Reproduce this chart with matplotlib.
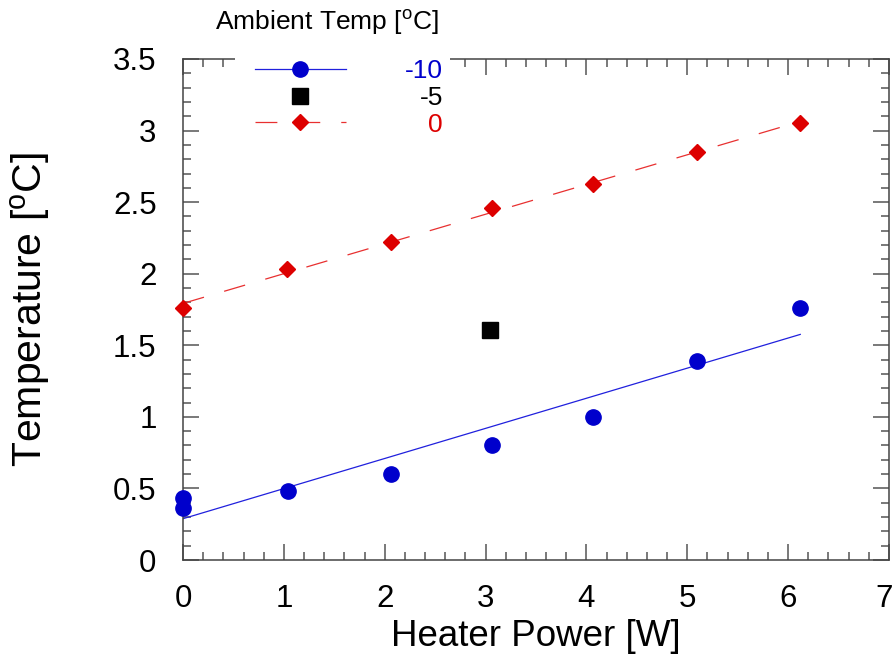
import numpy as np
import matplotlib
matplotlib.use("Agg")
import matplotlib.pyplot as plt
from matplotlib.lines import Line2D
from matplotlib.patches import Rectangle
from matplotlib.ticker import MultipleLocator, FuncFormatter
from matplotlib.transforms import ScaledTranslation

plt.rcParams['font.family'] = ['Liberation Sans', 'DejaVu Sans']

# ---- data ----
x_m10 = [0.0, 0.0, 1.04, 2.06, 3.06, 4.07, 5.10, 6.12]
y_m10 = [0.43, 0.36, 0.48, 0.60, 0.80, 1.00, 1.39, 1.76]
x_m5 = [3.04]
y_m5 = [1.61]
x_0 = [0.0, 1.03, 2.06, 3.06, 4.07, 5.10, 6.12]
y_0 = [1.76, 2.03, 2.22, 2.46, 2.63, 2.85, 3.05]
series_labels = ['-10', '-5', '0']
legend_title = 'Ambient Temp [$\\mathregular{^o}$C]'
xlabel = 'Heater Power [W]'
ylabel = 'Temperature [$\\mathregular{^o}$C]'

blue = '#0000cc'
blue_line = '#2020dd'
red = '#dd0000'
red_line = '#e83030'
black = '#000000'

W, H = 894, 661
fig = plt.figure(figsize=(W / 100, H / 100), dpi=100)
ax = fig.add_axes([183 / W, 1 - 560 / H, (889 - 183) / W, (560 - 59) / H])

# fits
p1 = np.polyfit(x_m10, y_m10, 1)
xf1 = np.array([min(x_m10), max(x_m10)])
ax.plot(xf1, np.polyval(p1, xf1), color=blue_line, lw=0.9, zorder=2)
p0 = np.polyfit(x_0, y_0, 1)
xf0 = np.array([min(x_0), max(x_0)])
ax.plot(xf0, np.polyval(p0, xf0), color=red_line, lw=0.9, dashes=(17.5, 16.8), zorder=2)

ms_o, ms_s, ms_d = 11, 12, 8.2
ax.plot(x_m10, y_m10, 'o', color=blue, ms=ms_o, mec=blue, clip_on=False, zorder=3)
ax.plot(x_m5, y_m5, 's', color=black, ms=ms_s, clip_on=False, zorder=3)
ax.plot(x_0, y_0, 'D', color=red, ms=ms_d, clip_on=False, zorder=3)

ax.set_xlim(0, 7)
ax.set_ylim(0, 3.5)
ax.xaxis.set_major_locator(MultipleLocator(1))
ax.xaxis.set_minor_locator(MultipleLocator(0.2))
ax.yaxis.set_major_locator(MultipleLocator(0.5))
ax.yaxis.set_minor_locator(MultipleLocator(0.1))
fmt = FuncFormatter(lambda v, p: '%g' % v)
ax.xaxis.set_major_formatter(fmt)
ax.yaxis.set_major_formatter(fmt)

tick_col = '#555555'
ax.tick_params(which='both', direction='in', top=True, right=True, color=tick_col, width=1.1)
ax.tick_params(which='major', length=11.5, labelsize=22.5)
ax.tick_params(which='minor', length=5.8)
ax.tick_params(axis='x', which='major', pad=17)
ax.tick_params(axis='y', which='major', pad=19)
for s in ax.spines.values():
    s.set_color('#444444')
    s.set_linewidth(1.1)

ax.set_xlabel(xlabel, fontsize=26.5, labelpad=4)
ax.set_ylabel(ylabel, fontsize=29.5, labelpad=44)

# white legend background covering the top frame
fig.add_artist(Rectangle((235 / W, 1 - 145 / H), (450 - 235) / W, 100 / H,
                         transform=fig.transFigure, facecolor='white',
                         edgecolor='none', zorder=2))

# legend (handles), labels right-aligned as text
handles = [
    Line2D([], [], color=blue_line, lw=0.9, marker='o', ms=ms_o, mfc=blue, mec=blue),
    Line2D([], [], ls='none', marker='s', ms=ms_s, color=black),
    Line2D([], [], color=red_line, lw=0.9, dashes=(17.5, 16.8), marker='D', ms=ms_d, mfc=red, mec=red),
]
leg = fig.legend(handles, ['', '', ''], loc='center left',
                 bbox_to_anchor=(255 / W, 1 - 97 / H), frameon=False,
                 fontsize=12, handlelength=5.46, handletextpad=0, borderpad=0,
                 borderaxespad=0, labelspacing=0.70, numpoints=1)
leg.set_zorder(5)

label_cols = [blue, black, red]
baselines = [78, 105, 131.5]
for lab, c, b in zip(series_labels, label_cols, baselines):
    fig.text(443 / W, 1 - b / H, lab, color=c, fontsize=19, ha='right', va='baseline', zorder=6)

fig.text(215 / W, 1 - 30 / H, legend_title, fontsize=19, ha='left', va='baseline')

fig.canvas.draw()
for lbl in ax.get_xticklabels():
    if lbl.get_text() == '7':
        lbl.set_transform(lbl.get_transform() + ScaledTranslation(-5 / 100, 0, fig.dpi_scale_trans))

fig.savefig('out.png', dpi=100)
